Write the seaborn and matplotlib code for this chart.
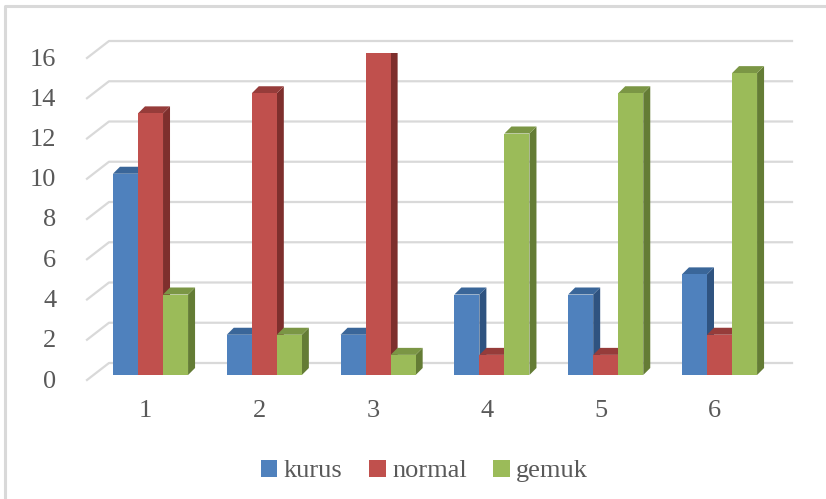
import numpy as np
import pandas as pd
import matplotlib
matplotlib.use("Agg")
import matplotlib.pyplot as plt
import matplotlib.transforms as mtransforms
from matplotlib.patches import Polygon, Patch
from matplotlib.lines import Line2D
from matplotlib.font_manager import FontProperties
import seaborn as sns

# --- data -------------------------------------------------------------
categories = ["1", "2", "3", "4", "5", "6"]
kurus = [10, 2, 2, 4, 4, 5]
normal = [13, 14, 16, 1, 1, 2]
gemuk = [4, 2, 1, 12, 14, 15]
series_names = ["kurus", "normal", "gemuk"]
y_ticks = [0, 2, 4, 6, 8, 10, 12, 14, 16]

df = pd.DataFrame({
    "kategori": categories * 3,
    "nilai": kurus + normal + gemuk,
    "seri": [s for s in series_names for _ in categories],
})

front_colors = {"kurus": "#4F81BD", "normal": "#C0504D", "gemuk": "#9BBB59"}
top_colors = {"kurus": "#3A6699", "normal": "#963C3A", "gemuk": "#7B9645"}
side_colors = {"kurus": "#2F5380", "normal": "#7E2F2D", "gemuk": "#647C35"}

W, H, DPI = 826, 499, 100
fig = plt.figure(figsize=(W / DPI, H / DPI), dpi=DPI)
fig.patch.set_facecolor("white")

# axes placed in pixel terms: front plane from x=87..792, y(0)=375, y(16)=53
ax_left, ax_right = 87, 792
y0_px, y16_px = 375, 53
ax = fig.add_axes([ax_left / W, (H - y0_px) / H,
                   (ax_right - ax_left) / W, (y0_px - y16_px) / H])
ax.set_facecolor("none")

sns.barplot(data=df, x="kategori", y="nilai", hue="seri",
            palette=front_colors, width=0.66, saturation=1,
            linewidth=0, ax=ax, legend=False)

ax.set_ylim(0, 16)
ax.set_xlim(-0.558, 5.637)
for s in ax.spines.values():
    s.set_visible(False)
ax.set_xlabel("")
ax.set_ylabel("")
ax.tick_params(length=0)
ax.grid(False)

serif = "Liberation Serif"
fs = 19
label_font = FontProperties(family=serif, size=fs)
ax.set_yticks(y_ticks)
ax.set_yticklabels([str(v) for v in y_ticks], fontproperties=label_font,
                   color="#595959")
ax.tick_params(axis="y", pad=22)
ax.set_xticks(range(len(categories)))
ax.set_xticklabels(categories, fontproperties=label_font, color="#595959")
ax.tick_params(axis="x", pad=18)

shift_down = mtransforms.ScaledTranslation(0, -4 / DPI, fig.dpi_scale_trans)
for lab in ax.get_yticklabels():
    lab.set_transform(lab.get_transform() + shift_down)
shift_left = mtransforms.ScaledTranslation(-5 / DPI, 0, fig.dpi_scale_trans)
for lab in ax.get_xticklabels():
    lab.set_transform(lab.get_transform() + shift_left)

fig.canvas.draw()

# back wall gridlines with diagonal floor-to-wall connector (pixel space)
grid_color = "#D9D9D9"
for v in y_ticks:
    yb = ax.transData.transform((0, v))[1]
    xs = [ax_left, ax_left + 22, ax_right]
    ys = [yb - 5, yb + 12, yb + 12]
    fig.add_artist(Line2D(xs, ys, transform=mtransforms.IdentityTransform(),
                          color=grid_color, lw=1.6, zorder=0))

# pseudo-3D depth for each bar
dx, dy = 7, 7
bars = []
for patch, name in zip(ax.patches, [s for s in series_names for _ in categories]):
    bars.append((patch.get_x(), patch, name))
bars.sort(key=lambda t: t[0])
for rank, (_, patch, name) in enumerate(bars):
    x0 = patch.get_x()
    x1 = x0 + patch.get_width()
    h = patch.get_height()
    (px0, py0) = ax.transData.transform((x0, 0))
    (px1, py1) = ax.transData.transform((x1, h))
    top = Polygon([(px0, py1), (px1, py1), (px1 + dx, py1 + dy), (px0 + dx, py1 + dy)],
                  closed=True, transform=mtransforms.IdentityTransform(),
                  facecolor=top_colors[name], edgecolor="none")
    side = Polygon([(px1, py0), (px1 + dx, py0 + dy), (px1 + dx, py1 + dy), (px1, py1)],
                   closed=True, transform=mtransforms.IdentityTransform(),
                   facecolor=side_colors[name], edgecolor="none")
    base = 2 + 3 * rank
    side.set_zorder(base)
    top.set_zorder(base + 1)
    patch.set_zorder(base + 2)
    ax.add_artist(side)
    ax.add_artist(top)

# legend along the bottom
handles = [Patch(facecolor=front_colors[n], edgecolor="none") for n in series_names]
leg = fig.legend(handles, series_names, loc="center", bbox_to_anchor=(0.514, (H - 471) / H),
                 ncol=3, frameon=False, handlelength=0.62, handleheight=0.62,
                 handletextpad=0.25, columnspacing=1.0, prop=label_font)
for t in leg.get_texts():
    t.set_color("#595959")
    t.set_fontproperties(label_font)

# chart area border (left and top edges)
fig.add_artist(Line2D([5, 5, W + 5], [-5, H - 6, H - 6],
                      transform=mtransforms.IdentityTransform(),
                      color="#D9D9D9", lw=2.2, zorder=0))

fig.savefig("out.png", dpi=DPI)
